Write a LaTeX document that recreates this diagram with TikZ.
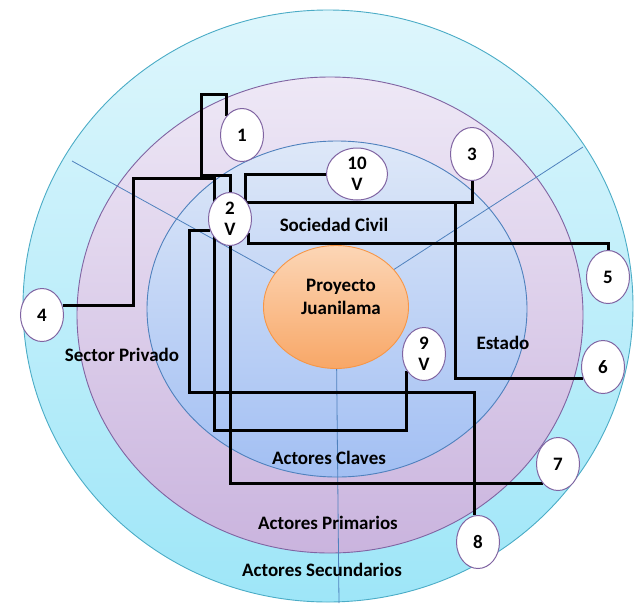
\documentclass[tikz,border=0pt]{standalone}
\usepackage{fontspec}
\setmainfont{Carlito}
\usetikzlibrary{shapes.geometric}

\definecolor{outerline}{HTML}{4BACC6}
\definecolor{outertop}{HTML}{DEF6FC}
\definecolor{outerbot}{HTML}{9EE6F8}
\definecolor{purpline}{HTML}{8064A2}
\definecolor{purptop}{HTML}{EEE8F6}
\definecolor{purpbot}{HTML}{CAB4DE}
\definecolor{blueline}{HTML}{4F81BD}
\definecolor{bluetop}{HTML}{DEE8F8}
\definecolor{bluebot}{HTML}{A2BFF3}
\definecolor{hubline}{HTML}{F79646}
\definecolor{hubtop}{HTML}{FCD6B6}
\definecolor{hubbot}{HTML}{F8A767}

\pgfdeclarelayer{ringlayer}
\pgfdeclarelayer{linklayer}
\pgfsetlayers{ringlayer,linklayer,main}

\tikzset{
	ring/.style={draw=#1, line width=0.9pt},
	spoke/.style={draw=blueline, line width=0.8pt},
	numnode/.style={ellipse, draw=purpline, fill=white, line width=1pt, inner sep=0pt,
		minimum width=43pt, minimum height=53pt, align=center,
		font=\fontsize{19}{21}\selectfont\bfseries},
	link/.style={draw=black, line width=3pt},
	lbl/.style={font=\fontsize{19}{23}\selectfont\bfseries, align=center, inner sep=0pt},
}

\begin{document}
\begin{tikzpicture}[x=1pt, y=-1pt]
	\useasboundingbox (0,0) rectangle (637,603);

	\begin{pgfonlayer}{ringlayer}
	%rings
	\path[ring=outerline, top color=outertop, bottom color=outerbot] (328,306) ellipse [x radius=305, y radius=296];
	\path[ring=purpline, top color=purptop, bottom color=purpbot] (330,315) ellipse [x radius=253, y radius=238];
	\path[ring=blueline, top color=bluetop, bottom color=bluebot] (337,309) ellipse [x radius=190, y radius=168];

	%spokes
	\coordinate (mid) at (336,307);
	\coordinate (spNW) at (72,161);
	\coordinate (spNE) at (583,147);
	\coordinate (spS) at (339,603);
	\draw[spoke] (mid) -- (spNW);
	\draw[spoke] (mid) -- (spNE);
	\draw[spoke] (mid) -- (spS);

	%centre
	\node[ellipse, draw=hubline, line width=0.9pt, top color=hubtop, bottom color=hubbot,
		minimum width=145pt, minimum height=123pt] (hub) at (mid) {};
	\node[lbl] (hubtxt) at (341,297) {Proyecto\\Juanilama};

	%labels
	\node[lbl] (civil) at (334,225) {Sociedad Civil};
	\node[lbl] (estado) at (503,343) {Estado};
	\node[lbl] (privado) at (122,355) {Sector Privado};
	\node[lbl] (claves) at (329,458) {Actores Claves};
	\node[lbl] (primarios) at (328,523) {Actores Primarios};
	\node[lbl] (secundarios) at (322,570) {Actores Secundarios};
	\end{pgfonlayer}

	%actors
	\node[numnode] (n1) at (242,135) {1};
	\node[numnode, minimum width=61pt, minimum height=52pt] (n10) at (357,174) {10\\V};
	\node[numnode] (n3) at (472,154) {3};
	\node[numnode] (n2) at (230,219) {2\\V};
	\node[numnode] (n4) at (42,315) {4};
	\node[numnode] (n5) at (608,277) {5};
	\node[numnode] (n6) at (603,367) {6};
	\node[numnode] (n7) at (558,464) {7};
	\node[numnode] (n8) at (478,542) {8};
	\node[numnode] (n9) at (424,354) {9\\V};

	\begin{pgfonlayer}{linklayer}
	%links
	\draw[link] (n1.130) |- (201,94) -- (201,175) -| (n2.north);
	\draw[link] (n4.24) -| (133,178) -- (214,178) -- (214,430) -| (n9.224);
	\draw[link] (n2.209) -| (189,392) -| (n8.97);
	\draw[link] (n2.south) |- (n7.232);
	\draw[link] (n10.west) -| (245,202) -| (n3.south);
	\coordinate (j6) at (455,202);
	\draw[link] (j6) |- (n6.209);
	\draw[link] (n2.-37) -- ++(0,10) -| (n5.north);
	\end{pgfonlayer}
\end{tikzpicture}
\end{document}
